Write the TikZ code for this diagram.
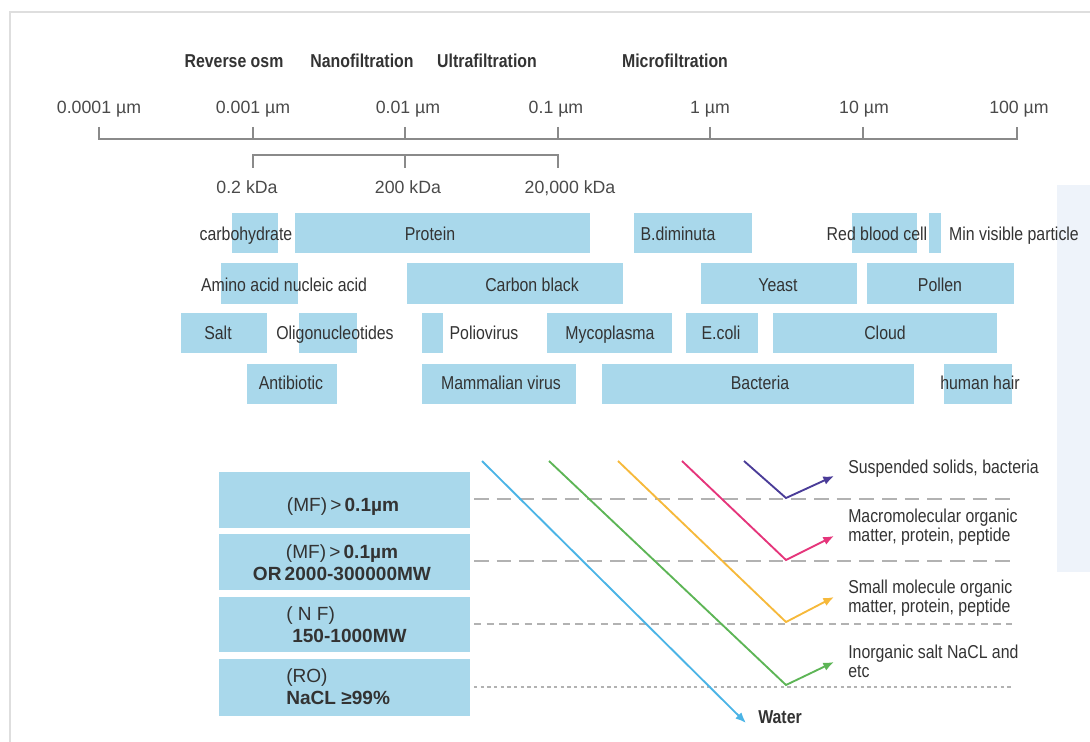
\documentclass[tikz,border=0pt]{standalone}
\usepackage{fontspec}
\setmainfont{Liberation Sans}
\newfontfamily\narrowfont[FakeStretch=0.85]{Liberation Sans}
\usetikzlibrary{arrows.meta}

\definecolor{framegrey}{HTML}{DEDEDE}
\definecolor{axisgrey}{HTML}{8A8A8A}
\definecolor{labelgrey}{HTML}{4A4A4A}
\definecolor{darkgrey}{HTML}{333333}
\definecolor{barblue}{HTML}{A9D8EB}
\definecolor{panelblue}{HTML}{EEF3FA}
\definecolor{sepgrey}{HTML}{B2B2B2}
\definecolor{waterblue}{HTML}{4BB4E6}
\definecolor{saltgreen}{HTML}{5DB556}
\definecolor{smallyellow}{HTML}{F6B93B}
\definecolor{macropink}{HTML}{E5357B}
\definecolor{solidpurple}{HTML}{4A3C98}

\begin{document}
\begin{tikzpicture}[x=0.75pt,y=0.75pt,yscale=-1,xscale=1,
  frame/.style={draw=framegrey,line width=1.5},
  scaleline/.style={draw=axisgrey,line width=0.9},
  ticklbl/.style={anchor=base,inner sep=0.75pt,text=labelgrey,font=\fontsize{13.3}{15}\selectfont},
  headlbl/.style={anchor=base,inner sep=0.75pt,text=darkgrey,font=\narrowfont\bfseries\fontsize{14}{16}\selectfont},
  bar/.style={fill=barblue},
  barlbl/.style={anchor=base,inner sep=0.75pt,text=darkgrey,font=\narrowfont\fontsize{14}{16}\selectfont},
  rangelbl/.style={inner sep=0pt,text=darkgrey,font=\fontsize{14.3}{17}\selectfont},
  flow/.style={line width=1.4,-{Latex[length=8,width=6.5]}},
  outlbl/.style={anchor=north west,inner sep=0pt,align=left,text=darkgrey,font=\narrowfont\fontsize{14}{14}\selectfont}
]
\useasboundingbox (0,0) rectangle (1090,742);

%Frame
\draw [frame] (10,742) -- (10,12) -- (1090,12) ;
%Side panel
\fill [panelblue] (1057,185) rectangle (1090,572) ;

% Text Node
\node [headlbl] (ro) at (234,68) {Reverse osm};
% Text Node
\node [headlbl] (nf) at (362,68) {Nanofiltration};
% Text Node
\node [headlbl] (uf) at (487,68) {Ultrafiltration};
% Text Node
\node [headlbl] (mf) at (675,68) {Microfiltration};

%Size scale
\draw [scaleline] (99,127) -- (99,139) -- (1017,139) -- (1017,127) ;
\draw [scaleline] (253,127) -- (253,139) ;
\draw [scaleline] (405,127) -- (405,139) ;
\draw [scaleline] (558,127) -- (558,139) ;
\draw [scaleline] (710,127) -- (710,139) ;
\draw [scaleline] (863,127) -- (863,139) ;
%Weight scale
\draw [scaleline] (253,168) -- (253,155) -- (558,155) -- (558,168) ;
\draw [scaleline] (405,155) -- (405,168) ;

% Text Node
\node [ticklbl] (um0001) at (99,114) {0.0001 µm};
\node [ticklbl] (um001) at (253,114) {0.001 µm};
\node [ticklbl] (um01) at (408,114) {0.01 µm};
\node [ticklbl] (um1) at (556,114) {0.1 µm};
\node [ticklbl] (um10) at (710,114) {1 µm};
\node [ticklbl] (um100) at (864,114) {10 µm};
\node [ticklbl] (um1000) at (1019,114) {100 µm};
% Text Node
\node [ticklbl] (kda02) at (247,193) {0.2 kDa};
\node [ticklbl] (kda200) at (408,193) {200 kDa};
\node [ticklbl] (kda20000) at (570,193) {20,000 kDa};

%Particle bars
\fill [bar] (232,213) rectangle (278,253) ;
\fill [bar] (295,213) rectangle (590,253) ;
\fill [bar] (634,213) rectangle (752,253) ;
\fill [bar] (852,213) rectangle (917,253) ;
\fill [bar] (929,213) rectangle (941,253) ;
\fill [bar] (221,263) rectangle (298,304) ;
\fill [bar] (407,263) rectangle (623,304) ;
\fill [bar] (701,263) rectangle (857,304) ;
\fill [bar] (867,263) rectangle (1014,304) ;
\fill [bar] (181,313) rectangle (267,353) ;
\fill [bar] (299,313) rectangle (357,353) ;
\fill [bar] (422,313) rectangle (443,353) ;
\fill [bar] (547,313) rectangle (672,353) ;
\fill [bar] (686,313) rectangle (758,353) ;
\fill [bar] (773,313) rectangle (997,353) ;
\fill [bar] (247,364) rectangle (337,404) ;
\fill [bar] (422,364) rectangle (576,404) ;
\fill [bar] (602,364) rectangle (914,404) ;
\fill [bar] (944,364) rectangle (1012,404) ;

% Text Node
\node [barlbl] (carbo) at (246,240) {carbohydrate};
\node [barlbl] (protein) at (430,240) {Protein};
\node [barlbl] (bdim) at (678,240) {B.diminuta};
\node [barlbl] (rbc) at (877,240) {Red blood cell};
\node [barlbl] (minvis) at (1014,240) {Min visible particle};
% Text Node
\node [barlbl] (amino) at (284,291) {Amino acid nucleic acid};
\node [barlbl] (carbon) at (532,291) {Carbon black};
\node [barlbl] (yeast) at (778,291) {Yeast};
\node [barlbl] (pollen) at (940,291) {Pollen};
% Text Node
\node [barlbl] (salt) at (218,339) {Salt};
\node [barlbl] (oligo) at (335,339) {Oligonucleotides};
\node [barlbl] (polio) at (484,339) {Poliovirus};
\node [barlbl] (myco) at (610,339) {Mycoplasma};
\node [barlbl] (ecoli) at (721,339) {E.coli};
\node [barlbl] (cloud) at (885,339) {Cloud};
% Text Node
\node [barlbl] (antib) at (291,389) {Antibiotic};
\node [barlbl] (mamm) at (501,389) {Mammalian virus};
\node [barlbl] (bact) at (760,389) {Bacteria};
\node [barlbl] (hair) at (980,389) {human hair};

%Membrane range boxes
\fill [bar] (219,472) rectangle (470,528) ;
\fill [bar] (219,534) rectangle (470,590) ;
\fill [bar] (219,597) rectangle (470,652) ;
\fill [bar] (219,659) rectangle (470,716) ;

% Text Node
\node [rangelbl,anchor=base] (mfbox) at (343,511) {(MF)\,>\,\textbf{0.1µm}};
\node [rangelbl,anchor=north,align=center] (ufbox) at (342,544) {(MF)\,>\,\textbf{0.1µm}\\\textbf{OR\,2000-300000MW}};
\node [rangelbl,anchor=north west,align=left] (nfbox) at (286,606) {( N F)\\\hspace{4.5pt}\textbf{150-1000MW}};
\node [rangelbl,anchor=north west,align=left] (robox) at (286,668) {(RO)\\\textbf{NaCL ≥99\%}};

%Separation lines
\draw [sepgrey,line width=2,dash pattern={on 11pt off 6pt}] (474,499) -- (1012,499) ;
\draw [sepgrey,line width=2,dash pattern={on 11pt off 6pt}] (474,561) -- (1012,561) ;
\draw [sepgrey,line width=1.7,dash pattern={on 5.5pt off 4pt}] (474,624) -- (1012,624) ;
\draw [sepgrey,line width=1.1,dash pattern={on 2.5pt off 2.5pt}] (474,687) -- (1012,687) ;

%Flow paths
\coordinate (wStart) at (482,461);
\coordinate (wEnd) at (746,723);
\coordinate (gStart) at (549,461);
\coordinate (gTurn) at (786,685);
\coordinate (gEnd) at (834,662);
\coordinate (yStart) at (618,461);
\coordinate (yTurn) at (786,622);
\coordinate (yEnd) at (834,597);
\coordinate (pStart) at (682,461);
\coordinate (pTurn) at (786,560);
\coordinate (pEnd) at (834,536);
\coordinate (sStart) at (744,461);
\coordinate (sTurn) at (786,498);
\coordinate (sEnd) at (834,476);

\draw [flow,waterblue] (wStart) -- (wEnd) ;
\draw [flow,saltgreen] (gStart) -- (gTurn) -- (gEnd) ;
\draw [flow,smallyellow] (yStart) -- (yTurn) -- (yEnd) ;
\draw [flow,macropink] (pStart) -- (pTurn) -- (pEnd) ;
\draw [flow,solidpurple] (sStart) -- (sTurn) -- (sEnd) ;

% Text Node
\node [outlbl] (solids) at (848,460) {Suspended solids, bacteria};
\node [outlbl] (macro) at (848,509) {Macromolecular organic\\matter, protein, peptide};
\node [outlbl] (smallmol) at (848,580) {Small molecule organic\\matter, protein, peptide};
\node [outlbl] (inorg) at (848,645) {Inorganic salt NaCL and\\etc};
% Text Node
\node [barlbl,anchor=base west,font=\narrowfont\bfseries\fontsize{14}{16}\selectfont] (water) at (757,723) {Water};

\end{tikzpicture}
\end{document}
